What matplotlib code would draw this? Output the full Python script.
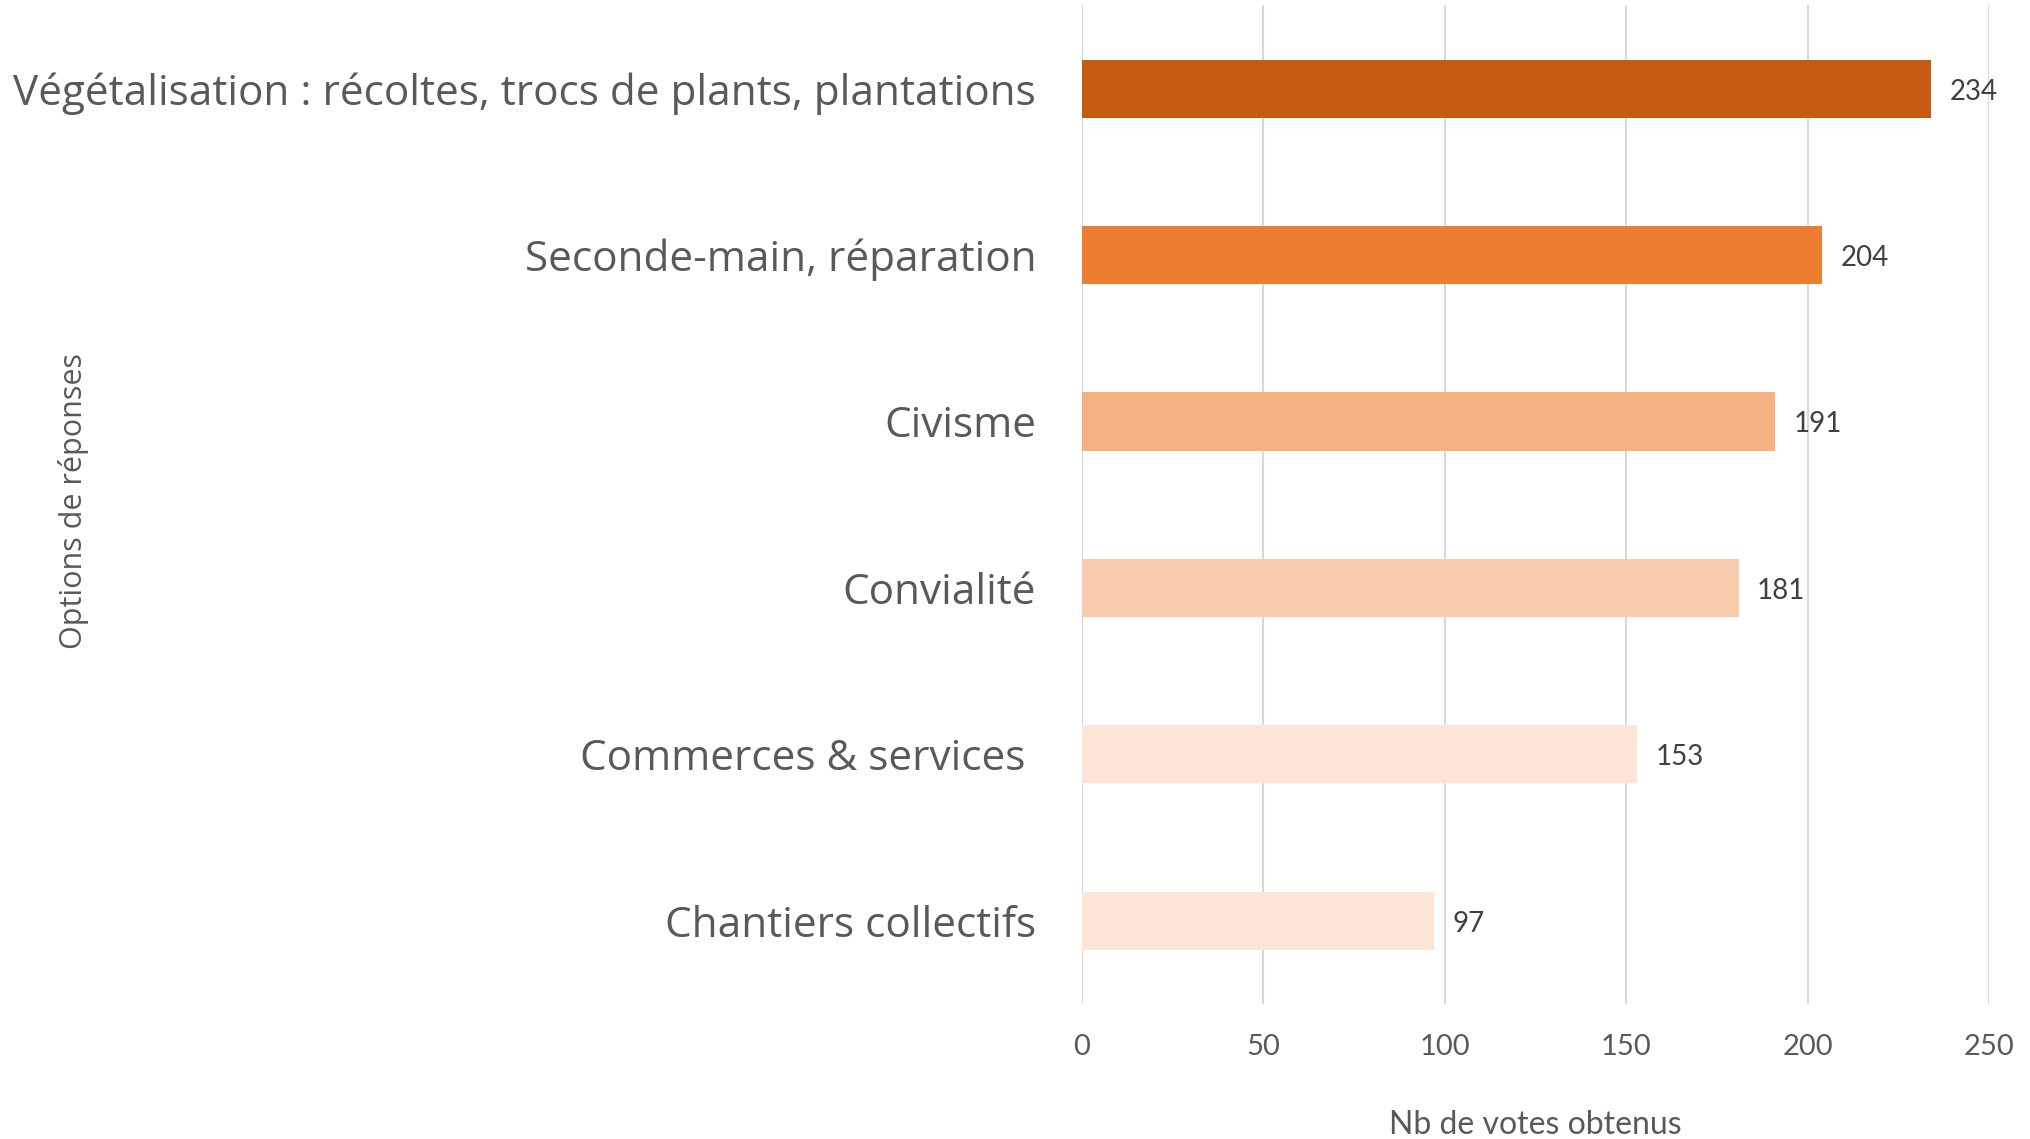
"""Horizontal bar chart: votes per response option."""

import matplotlib
matplotlib.use("Agg")
import matplotlib.pyplot as plt

categories = [
    "Végétalisation : récoltes, trocs de plants, plantations",
    "Seconde-main, réparation",
    "Civisme",
    "Convialité",
    "Commerces & services ",
    "Chantiers collectifs",
]
votes = [234, 204, 191, 181, 153, 97]
bar_colors = ["#C55A11", "#ED7D31", "#F4B183", "#F8CBAD", "#FBE5D6", "#FBE5D6"]
x_ticks = [0, 50, 100, 150, 200, 250]

TEXT = "#595959"


def main():
    fig = plt.figure(figsize=(20.3, 11.39), dpi=100)
    ax = fig.add_axes([0.533, 0.1186, 0.447, 0.8766])

    y = list(range(len(categories)))
    ax.barh(y, votes, height=0.35, color=bar_colors, zorder=2)

    for yi, v in zip(y, votes):
        ax.annotate(str(v), (v, yi), xytext=(18, -3), textcoords="offset pixels",
                    va="center", ha="left", fontsize=20, family="Lato", color="#404040")

    ax.set_ylim(len(categories) - 0.5, -0.5)
    ax.set_xlim(0, 250)
    ax.set_xticks(x_ticks)
    ax.set_xticklabels([str(t) for t in x_ticks], fontsize=21, family="Lato", color=TEXT)
    ax.set_yticks(y)
    ax.set_yticklabels(categories, fontsize=30.4, family="Open Sans", color=TEXT)
    ax.tick_params(axis="both", length=0)
    ax.tick_params(axis="y", pad=33)
    ax.tick_params(axis="x", pad=22)

    ax.grid(axis="x", color="#D9D9D9", linewidth=1.5, zorder=0)
    for side in ax.spines.values():
        side.set_visible(False)

    ax.set_xlabel("Nb de votes obtenus", fontsize=23, family="Lato", color=TEXT, labelpad=36)
    fig.text(0.036, 0.560, "Options de réponses", rotation=90, ha="center", va="center",
             fontsize=22, family="Open Sans", color=TEXT)

    fig.savefig("out.png", dpi=100, facecolor="white")


if __name__ == "__main__":
    main()
